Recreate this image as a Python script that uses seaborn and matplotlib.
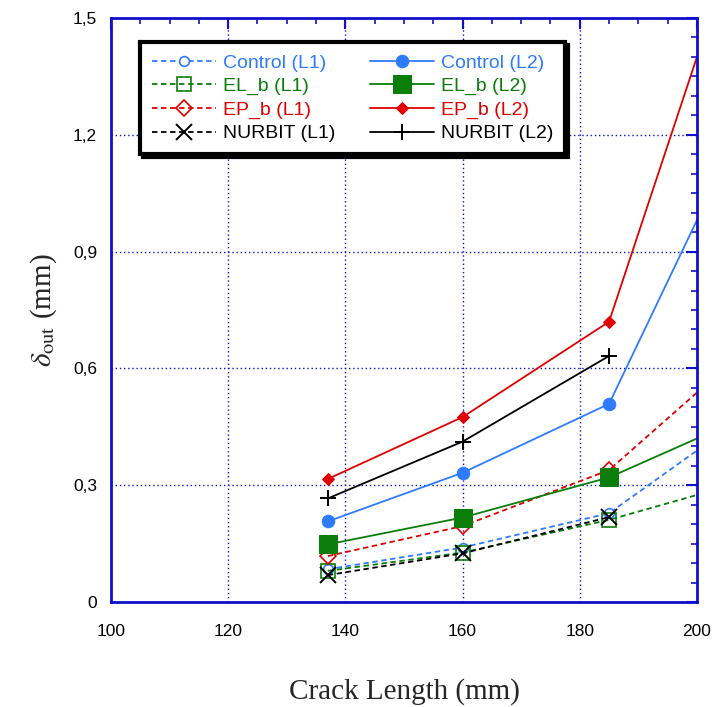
import matplotlib
matplotlib.use("Agg")
import matplotlib.pyplot as plt
from matplotlib.ticker import MultipleLocator, FuncFormatter
import seaborn as sns

# Crack lengths (mm) at which the out-of-plane displacement was recorded
crack_full = [137, 160, 185, 200]
crack_short = [137, 160, 185]

# Out-of-plane displacement delta_out (mm)
control_L1 = [0.084, 0.140, 0.228, 0.389]
el_b_L1 = [0.080, 0.127, 0.211, 0.275]
ep_b_L1 = [0.118, 0.195, 0.339, 0.538]
nurbit_L1 = [0.069, 0.125, 0.218]
control_L2 = [0.207, 0.332, 0.509, 0.981]
el_b_L2 = [0.148, 0.217, 0.320, 0.420]
ep_b_L2 = [0.316, 0.475, 0.720, 1.400]
nurbit_L2 = [0.266, 0.412, 0.632]

labels = ["Control (L1)", "EL_b (L1)", "EP_b (L1)", "NURBIT (L1)",
          "Control (L2)", "EL_b (L2)", "EP_b (L2)", "NURBIT (L2)"]

BLUE = "#2f7bff"
GREEN = "#0a7d0a"
RED = "#e00000"
BLACK = "#000000"
AXIS = "#1010cc"

sns.set_theme(style="white")
plt.rcParams["font.family"] = ["Liberation Sans", "DejaVu Sans"]
plt.rcParams["mathtext.fontset"] = "stix"

fig = plt.figure(figsize=(7.15, 7.07), dpi=100)
ax = fig.add_axes([0.1552, 0.1485, 0.8196, 0.826])

series = [
    (crack_full, control_L1, BLUE, "--", dict(marker="o", markersize=7, markerfacecolor="white", markeredgewidth=1.2)),
    (crack_full, el_b_L1, GREEN, "--", dict(marker="s", markersize=10, markerfacecolor="none", markeredgewidth=1.2)),
    (crack_full, ep_b_L1, RED, "--", dict(marker="D", markersize=8, markerfacecolor="none", markeredgewidth=1.2)),
    (crack_short, nurbit_L1, BLACK, "--", dict(marker="x", markersize=12, markeredgewidth=1.4)),
    (crack_full, control_L2, BLUE, "-", dict(marker="o", markersize=9)),
    (crack_full, el_b_L2, GREEN, "-", dict(marker="s", markersize=13)),
    (crack_full, ep_b_L2, RED, "-", dict(marker="D", markersize=6)),
    (crack_short, nurbit_L2, BLACK, "-", dict(marker="+", markersize=12, markeredgewidth=1.4)),
]

for (xs, ys, col, ls, mk), lab in zip(series, labels):
    sns.lineplot(x=xs, y=ys, ax=ax, color=col, linewidth=1.3,
                 markevery=[0, 1, 2], markeredgecolor=col, label=lab, **mk)
    line = ax.lines[-1]
    line.set_linestyle(ls)
    if ls == "--":
        line.set_dashes((3, 2))

ax.set_xlim(100, 200)
ax.set_ylim(0, 1.5)
ax.xaxis.set_major_locator(MultipleLocator(20))
ax.xaxis.set_minor_locator(MultipleLocator(5))
ax.yaxis.set_major_locator(MultipleLocator(0.3))
ax.yaxis.set_minor_locator(MultipleLocator(0.05))
ax.yaxis.set_major_formatter(FuncFormatter(lambda v, p: "0" if abs(v) < 1e-9 else f"{v:.1f}".replace(".", ",")))

ax.grid(True, which="major", color=AXIS, linestyle=(0, (1, 2)), linewidth=1.0)
for s in ax.spines.values():
    s.set_color(AXIS)
    s.set_linewidth(2.0)
ax.tick_params(which="both", direction="in", colors=AXIS, top=True, right=True,
               labelcolor="black", labelsize=12.5)
ax.tick_params(which="major", length=8, width=1.5)
ax.tick_params(which="minor", length=4, width=1.2)
ax.tick_params(axis="x", which="major", pad=16)
ax.tick_params(axis="y", which="major", pad=10)

ax.set_xlabel("Crack Length (mm)", fontsize=21, family="Liberation Serif", labelpad=28)
ax.set_ylabel(r"$\delta_{\rm out}$ (mm)", fontsize=21, family="Liberation Serif", labelpad=10)

leg = ax.legend(loc="upper left", bbox_to_anchor=(0.033, 0.975), ncol=2, fontsize=14,
                frameon=True, fancybox=False, shadow={"color": "black", "alpha": 1.0},
                handlelength=3.3, columnspacing=1.8, borderpad=0.6, labelspacing=0.3,
                handletextpad=0.35)
leg.get_frame().set_edgecolor("black")
leg.get_frame().set_linewidth(3.0)
leg.get_frame().set_facecolor("white")
for txt, (_, _, col, _, _) in zip(leg.get_texts(), series):
    txt.set_color(col)

fig.savefig("out.png", dpi=100)
